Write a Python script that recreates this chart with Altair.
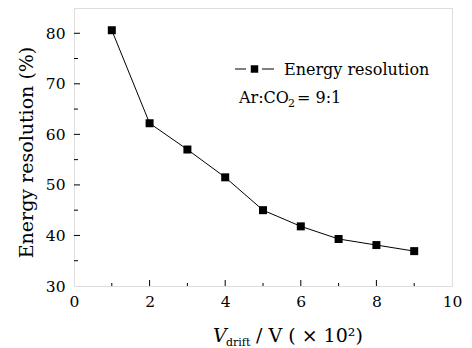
import altair as alt
import pandas as pd

# data
v_drift = [1, 2, 3, 4, 5, 6, 7, 8, 9]
energy_res = [80.6, 62.2, 57.0, 51.5, 45.0, 41.8, 39.3, 38.1, 36.9]
x_major = [2, 4, 6, 8]
x_minor = [1, 3, 5, 7, 9]
y_major = [40, 50, 60, 70, 80]
y_minor = [35, 45, 55, 65, 75]
x_labels = [0, 2, 4, 6, 8, 10]
y_labels = [30, 40, 50, 60, 70, 80]

FONT = "DejaVu Serif"
W, H = 378, 278

df = pd.DataFrame({"x": v_drift, "y": energy_res})
xs = alt.Scale(domain=[0, 10], nice=False)
ys = alt.Scale(domain=[30, 85], nice=False)

xaxis = alt.Axis(values=x_labels, ticks=False, domain=False, grid=False,
                 labelFont=FONT, labelFontSize=15.5, labelColor="black",
                 labelPadding=8, title=None, labelFlush=False)
yaxis = alt.Axis(values=y_labels, ticks=False, domain=False, grid=False,
                 labelFont=FONT, labelFontSize=15.5, labelColor="black",
                 labelPadding=9, labelFlush=False,
                 title="Energy resolution (%)", titleFont=FONT, titleFontSize=19,
                 titleFontWeight="normal", titleColor="black", titlePadding=9,
                 titleY=144)

base = alt.Chart(df)
line = base.mark_line(color="black", strokeWidth=1).encode(
    x=alt.X("x:Q", scale=xs, axis=xaxis),
    y=alt.Y("y:Q", scale=ys, axis=yaxis),
)
pts = base.mark_point(shape="square", size=64, filled=True, color="black", opacity=1).encode(
    x=alt.X("x:Q", scale=xs), y=alt.Y("y:Q", scale=ys)
)

def xticks(vals, length):
    return alt.Chart(pd.DataFrame({"t": vals})).mark_rule(color="black", strokeWidth=1).encode(
        x=alt.X("t:Q", scale=xs), y=alt.value(H), y2=alt.value(H - length))

def yticks(vals, length):
    return alt.Chart(pd.DataFrame({"t": vals})).mark_rule(color="black", strokeWidth=1).encode(
        y=alt.Y("t:Q", scale=ys), x=alt.value(0), x2=alt.value(length))

def txt(s, x, y, size, style="normal", baseline="alphabetic", font=FONT):
    return alt.Chart(pd.DataFrame({"s": [s]})).mark_text(
        font=font, fontSize=size, fontStyle=style, align="left", baseline=baseline, color="black"
    ).encode(text="s:N", x=alt.value(x), y=alt.value(y))

# legend
leg_line1 = alt.Chart(pd.DataFrame({"a": [0]})).mark_rule(color="black", strokeWidth=1).encode(
    x=alt.value(161), x2=alt.value(172), y=alt.value(61))
leg_line2 = alt.Chart(pd.DataFrame({"a": [0]})).mark_rule(color="black", strokeWidth=1).encode(
    x=alt.value(188), x2=alt.value(200), y=alt.value(61))
leg_sq = alt.Chart(pd.DataFrame({"a": [0]})).mark_point(shape="square", size=56, filled=True,
                                                       color="black", opacity=1).encode(
    x=alt.value(180.5), y=alt.value(61))

layers = [
    line, pts,
    xticks(x_major, 6), xticks(x_minor, 3),
    yticks(y_major, 6), yticks(y_minor, 4),
    leg_line1, leg_line2, leg_sq,
    txt("Energy resolution", 210, 67, 16),
    txt("Ar:CO", 165, 95, 16),
    txt("2", 214, 99, 11),
    txt("= 9:1", 223, 95, 16),
    txt("V", 139, 334, 19, "italic"),
    txt("drift", 152, 338, 11),
    txt("/ V ( × 10²)", 182, 334, 19),
]

chart = alt.layer(*layers).properties(
    width=W, height=H,
    autosize=alt.AutoSizeParams(type="none"),
    padding={"left": 74, "top": 8, "right": 20, "bottom": 62},
).configure_view(stroke="black", strokeWidth=1.3).configure(background="white")

chart.save("out.html", embed_options={"renderer": "svg", "actions": False})
